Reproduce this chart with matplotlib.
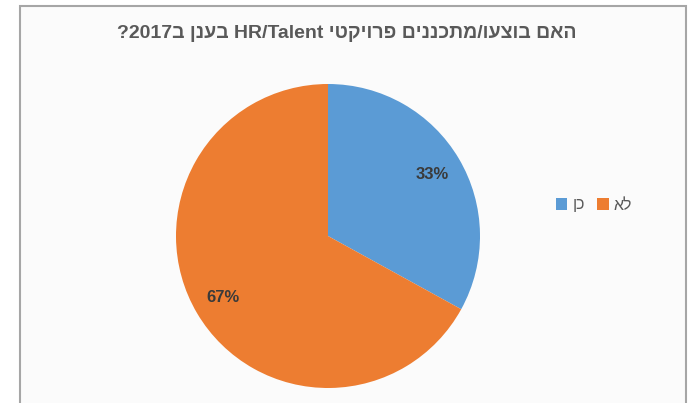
import re
import matplotlib.pyplot as plt
from matplotlib.patches import Rectangle, Patch

# data
categories = ["כן", "לא"]          # yes / no
shares = [33, 67]
colors = ["#5B9BD5", "#ED7D31"]
title = "האם בוצעו/מתכננים פרויקטי HR/Talent בענן ב2017?"

FONT = ['Liberation Sans', 'DejaVu Sans']


def visual(s):
    # matplotlib has no bidi support: flip the string, then put latin/digit runs back
    r = s[::-1]
    return re.sub(r'[A-Za-z0-9/]+', lambda m: m.group(0)[::-1], r)


W, H = 692, 403
fig = plt.figure(figsize=(W / 100, H / 100), dpi=100)
fig.patch.set_facecolor('white')

# chart frame
fig.patches.append(Rectangle((20 / W, -0.05), 666 / W, 1.05 - 6 / H, transform=fig.transFigure,
                             facecolor='#fbfbfb', edgecolor='#a6a6a6', linewidth=1.5, zorder=-5))

fig.text(347 / W, 1 - 34 / H, visual(title), ha='center', va='center',
         fontsize=14, fontweight='bold', color='#595959', family=FONT)

# pie
cx, cy, r = 328, 236, 152
ax = fig.add_axes([(cx - r) / W, (H - cy - r) / H, 2 * r / W, 2 * r / H])
ax.set_zorder(2)
wedges, _, autotexts = ax.pie(shares, colors=colors, startangle=90, counterclock=False,
                              autopct='%d%%', pctdistance=0.8,
                              textprops=dict(fontsize=12, fontweight='bold', color='#3a3a3a', family=FONT))
ax.set_xlim(-1, 1)
ax.set_ylim(-1, 1)
ax.set_aspect('equal')
ax.axis('off')

handles = [Patch(facecolor=c) for c in colors]
fig.legend(handles, [visual(c) for c in categories], ncol=2, frameon=False,
           loc='center', bbox_to_anchor=(594 / W, 1 - 205 / H),
           handlelength=0.7, handleheight=0.7, handletextpad=0.3, columnspacing=0.8,
           prop=dict(family=FONT, size=11.5), labelcolor='#595959')

fig.savefig("out.png", dpi=100)
